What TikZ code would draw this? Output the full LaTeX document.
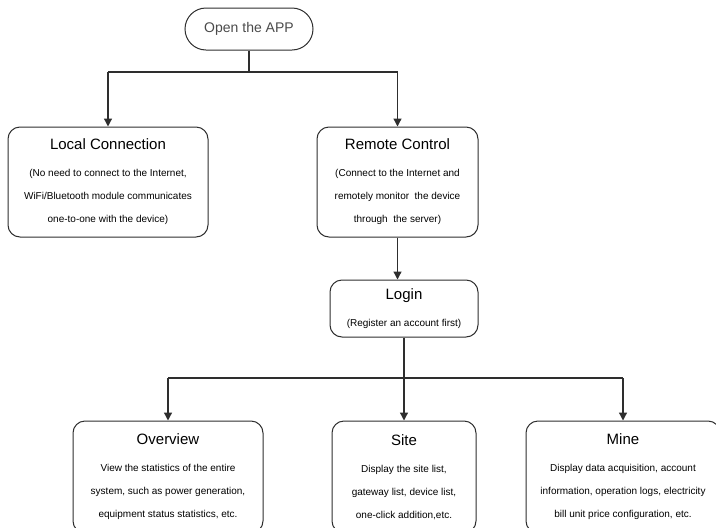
\documentclass[tikz,border=0pt]{standalone}
\usepackage{fontspec}
\setmainfont{Liberation Sans}
\usetikzlibrary{arrows.meta,positioning,calc}
\definecolor{LineGray}{HTML}{2E2E2E}
\definecolor{AppGray}{HTML}{4A4A4A}
\newcommand{\cardtitle}[1]{{\fontsize{15}{17}\selectfont #1}\\[4pt]}

\begin{document}
\begin{tikzpicture}[x=1pt,y=-1pt,
  card/.style={draw=LineGray,line width=1pt,rounded corners=12pt,align=center,inner sep=0pt,font=\fontsize{10}{23}\selectfont},
  link/.style={draw=LineGray,line width=1.3pt},
  arr/.style={link,-{Triangle[length=8pt,width=8pt]}}]
  \useasboundingbox (0,0) rectangle (716,528);
  % start
  \node[draw=LineGray,line width=1pt,rounded corners=21pt,minimum width=128pt,minimum height=42pt,text=AppGray,font=\fontsize{14}{16}\selectfont] (app) at (249,29) {Open the APP};
  % two ways in
  \node[card,minimum width=200pt,minimum height=110pt] (local) at (108,182)
    {\cardtitle{Local Connection}(No need to connect to the Internet,\\WiFi/Bluetooth module communicates\\one-to-one with the device)};
  \node[card,minimum width=161pt,minimum height=110pt] (remote) at (397.5,182)
    {\cardtitle{Remote Control}(Connect to the Internet and\\remotely monitor\ \ the device\\through\ \ the server)};
  \node[card,minimum width=148pt,minimum height=57pt] (login) at (404,308.5)
    {\cardtitle{Login}(Register an account first)};
  % app pages
  \node[card,minimum width=190pt,minimum height=112pt] (overview) at (168,477)
    {\cardtitle{Overview}View the statistics of the entire\\system, such as power generation,\\equipment status statistics, etc.};
  \node[card,minimum width=144pt,minimum height=112pt] (site) at (404,477)
    {\cardtitle{Site}Display the site list,\\gateway list, device list,\\one-click addition,etc.};
  \node[card,minimum width=194pt,minimum height=112pt] (mine) at (623,477)
    {\cardtitle{Mine}Display data acquisition, account\\information, operation logs, electricity\\bill unit price configuration, etc.};

  \coordinate (busA) at (249,72);
  \coordinate (busB) at (404,378);
  \draw[link] (app) -- (busA);
  \draw[link] (busA -| local.north) -- (busA -| remote.north);
  \foreach \n in {local,remote}{\draw[arr] (busA -| \n.north) -- (\n.north);}
  \draw[arr] (remote.south) -- (remote.south |- login.north);
  \draw[link] (login) -- (busB);
  \draw[link] (busB -| overview.north) -- (busB -| mine.north);
  \foreach \n in {overview,site,mine}{\draw[arr] (busB -| \n.north) -- (\n.north);}
\end{tikzpicture}
\end{document}
